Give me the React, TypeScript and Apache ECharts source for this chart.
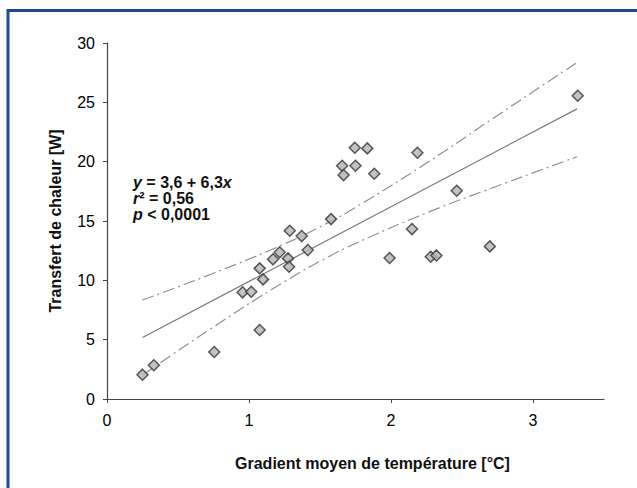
import React, { useEffect, useRef } from "react";
import * as echarts from "echarts";

// Observed points: [gradient °C, heat transfer W]
const points: number[][] = [
  [0.25, 2.05], [0.33, 2.84], [0.755, 3.96], [1.075, 5.81], [0.955, 8.99],
  [1.016, 9.04], [1.075, 11.01], [1.099, 10.08], [1.169, 11.77], [1.216, 12.36],
  [1.275, 11.85], [1.282, 11.15], [1.287, 14.18], [1.371, 13.73], [1.414, 12.55],
  [1.578, 15.16], [1.99, 11.88], [1.745, 21.17], [1.833, 21.12], [1.656, 19.66],
  [1.75, 19.66], [1.666, 18.87], [1.882, 18.98], [3.315, 25.55], [2.186, 20.75],
  [2.463, 17.55], [2.148, 14.32], [2.28, 11.99], [2.32, 12.1], [2.696, 12.86],
];

// Regression line y = 3,6 + 6,3x (end points)
const fitLine: number[][] = [[0.25, 5.18], [3.31, 24.45]];

// Confidence band curves
const upperBand: number[][] = [
  [0.25, 8.34], [0.75, 10.6], [1.25, 13.07], [1.55, 14.82], [1.75, 16.15],
  [2.25, 19.88], [2.75, 23.9], [3.31, 28.36],
];
const lowerBand: number[][] = [
  [0.25, 2.02], [0.75, 6.07], [1.25, 9.89], [1.55, 11.92], [1.75, 13.11],
  [2.25, 15.68], [2.75, 17.95], [3.31, 20.41],
];

const xTicks = [0, 1, 2, 3];
const yTicks = [0, 5, 10, 15, 20, 25, 30];

const statLines = [
  "{i|y} = 3,6 + 6,3{i|x}",
  "{i|r}² = 0,56",
  "{i|p} < 0,0001",
];

const FONT = "Liberation Sans, Arial, sans-serif";

export default function App() {
  const ref = useRef<HTMLDivElement>(null);
  useEffect(() => {
    if (!ref.current) return;
    const chart = echarts.init(ref.current, undefined, { renderer: "svg" });
    const bandStyle = {
      color: "#8f8f8f",
      width: 1.2,
      type: [12, 4, 2, 4] as any,
    };
    chart.setOption({
      animation: false,
      backgroundColor: "#ffffff",
      grid: { left: 107, right: 33, top: 43, bottom: 89, containLabel: false },
      xAxis: {
        type: "value",
        min: 0,
        max: 3.5,
        interval: 1,
        name: "Gradient moyen de température [°C]",
        nameLocation: "middle",
        nameGap: 56,
        nameTextStyle: {
          fontFamily: FONT,
          fontWeight: "bold",
          fontSize: 16,
          color: "#111",
          padding: [0, 0, 0, 34],
        },
        axisLine: { show: true, onZero: false, lineStyle: { color: "#444", width: 1.2 } },
        axisTick: { show: true, length: 4, customValues: xTicks, lineStyle: { color: "#444" } },
        axisLabel: {
          customValues: xTicks,
          margin: 13,
          fontFamily: FONT,
          fontSize: 16,
          color: "#000",
        },
        splitLine: { show: false },
      },
      yAxis: {
        type: "value",
        min: 0,
        max: 30,
        interval: 5,
        name: "Transfert de chaleur [W]",
        nameLocation: "middle",
        nameGap: 44,
        nameTextStyle: {
          fontFamily: FONT,
          fontWeight: "bold",
          fontSize: 16,
          color: "#111",
        },
        axisLine: { show: true, lineStyle: { color: "#444", width: 1.2 } },
        axisTick: { show: true, length: 4, customValues: yTicks, lineStyle: { color: "#444" } },
        axisLabel: {
          customValues: yTicks,
          margin: 12,
          fontFamily: FONT,
          fontSize: 16,
          color: "#000",
        },
        splitLine: { show: false },
      },
      graphic: [
        {
          type: "rect",
          shape: { x: 8, y: 10.5, width: 700, height: 600 },
          style: { fill: "none", stroke: "#22498f", lineWidth: 3 },
          silent: true,
          z: 100,
        },
        ...statLines.map((t, i) => ({
          type: "text",
          left: 133,
          top: 174 + i * 16,
          style: {
            text: t,
            fontFamily: FONT,
            fontWeight: "bold",
            fontSize: 16,
            lineHeight: 16,
            fill: "#111",
            rich: {
              i: { fontStyle: "italic", fontWeight: "bold", fontFamily: FONT, fontSize: 16, lineHeight: 16 },
            },
          },
        })),
      ],
      series: [
        {
          type: "line",
          data: upperBand,
          smooth: true,
          showSymbol: false,
          lineStyle: bandStyle,
          z: 1,
        },
        {
          type: "line",
          data: lowerBand,
          smooth: true,
          showSymbol: false,
          lineStyle: bandStyle,
          z: 1,
        },
        {
          type: "line",
          data: fitLine,
          showSymbol: false,
          lineStyle: { color: "#7a7a7a", width: 1.2 },
          z: 1,
        },
        {
          type: "scatter",
          data: points,
          symbol: "diamond",
          symbolSize: 11,
          itemStyle: { color: "#b3b3b3", borderColor: "#333", borderWidth: 1.5 },
          z: 3,
        },
      ],
    });
    return () => chart.dispose();
  }, []);
  return (
    <div
      ref={ref}
      style={{ position: "absolute", left: 0, top: 0, width: 637, height: 488 }}
    />
  );
}
